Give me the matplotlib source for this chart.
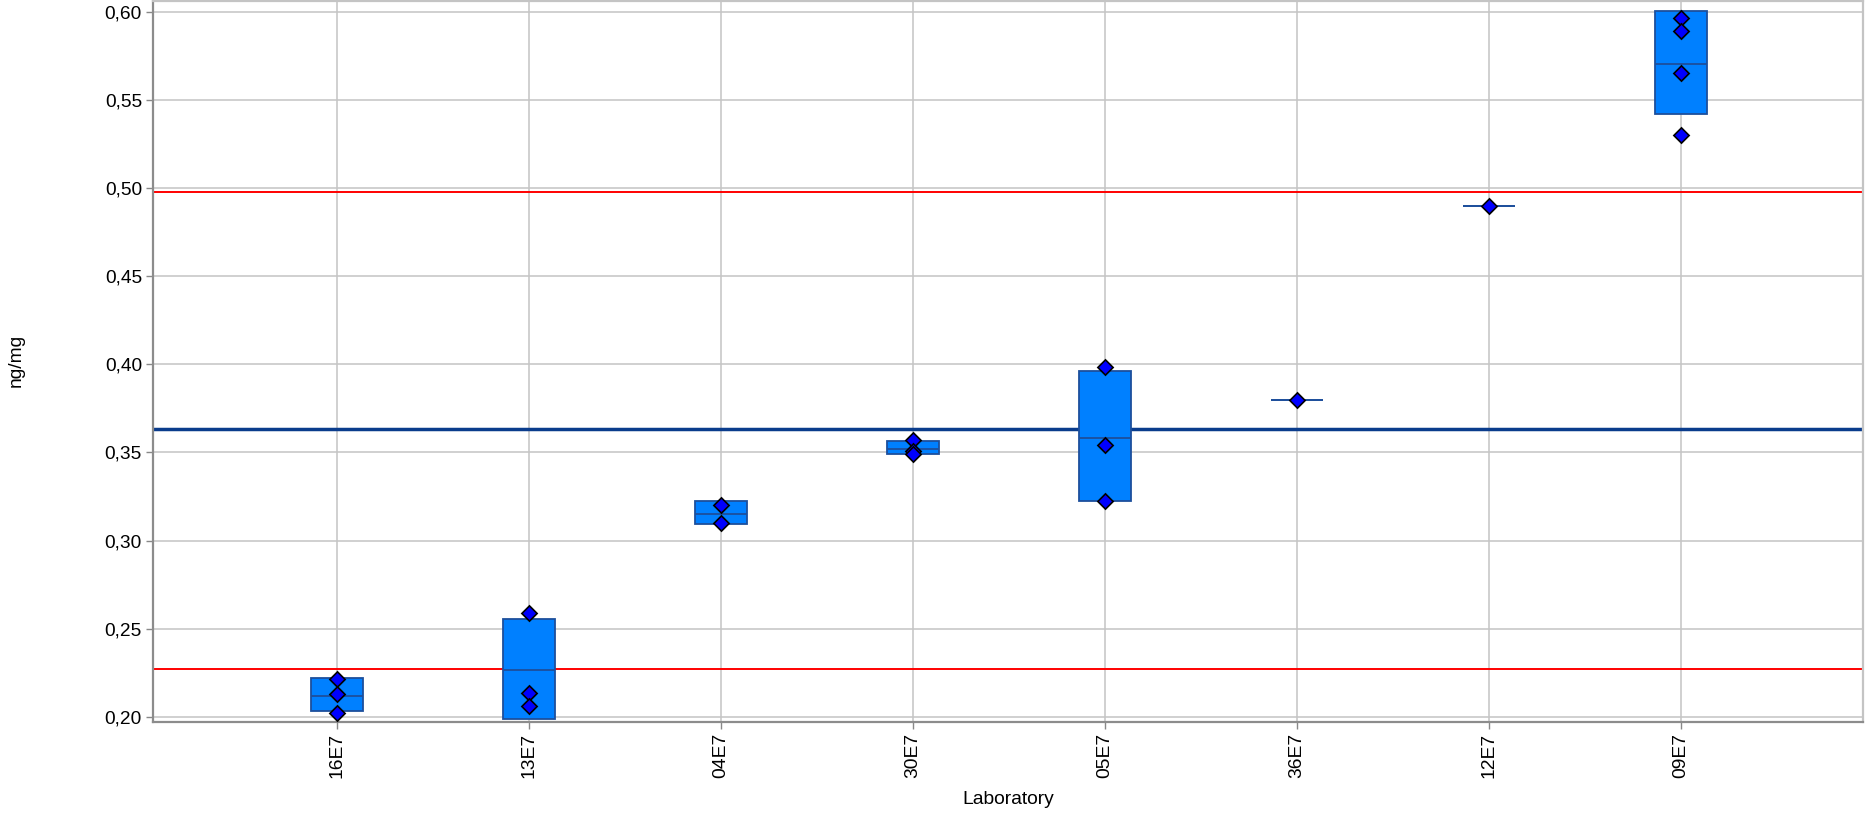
import numpy as np
import matplotlib
matplotlib.use("Agg")
import matplotlib.pyplot as plt
from matplotlib.ticker import FuncFormatter

plt.rcParams['font.family'] = ['Liberation Sans', 'DejaVu Sans']

# laboratories, in plotting order
labs = ['16E7', '13E7', '04E7', '30E7', '05E7', '36E7', '12E7', '09E7']

# box = mean +/- sd, middle line = mean
box_lo = [0.2033, 0.1987, 0.3093, 0.3493, 0.3225, 0.3800, 0.4900, 0.5422]
box_hi = [0.2219, 0.2553, 0.3225, 0.3566, 0.3964, 0.3800, 0.4900, 0.6006]
box_mid = [0.2120, 0.2263, 0.3149, 0.3517, 0.3579, 0.3800, 0.4900, 0.5706]

# single results per laboratory
results = [
    [0.2215, 0.2131, 0.2023],
    [0.2587, 0.2137, 0.2061],
    [0.3200, 0.3100],
    [0.3572, 0.3507, 0.3489],
    [0.3983, 0.3540, 0.3223],
    [0.3800],
    [0.4900],
    [0.5964, 0.5889, 0.5654, 0.5304],
]

assigned_value = 0.3634
limits = [0.2273, 0.4980]
yticks = [0.20, 0.25, 0.30, 0.35, 0.40, 0.45, 0.50, 0.55, 0.60]

fig = plt.figure(figsize=(18.72, 8.13), dpi=100)
ax = fig.add_axes([153 / 1872, 1 - 722 / 813, 1710 / 1872, 721 / 813])

x = np.arange(len(labs))
w = 0.27

ax.set_axisbelow(True)
ax.grid(True, color='#c4c4c4', lw=1.1)

# reference lines
ax.axhline(assigned_value, color='#0a3c8c', lw=2.5, zorder=2)
for lim in limits:
    ax.axhline(lim, color='#ff0000', lw=1.4, zorder=2)

# boxes
ax.bar(x, np.array(box_hi) - np.array(box_lo), bottom=box_lo, width=w,
       color='#0080ff', edgecolor='#1d4f9c', lw=1.3, zorder=3)
ax.hlines(box_mid, x - w / 2, x + w / 2, color='#1d4f9c', lw=1.3, zorder=4)

# diamonds (4-sided polygon, vertex on top)
for i, vals in enumerate(results):
    ax.plot([x[i]] * len(vals), vals, linestyle='none', marker=(4, 0, 0), ms=11,
            mfc='#0000ff', mec='black', mew=1.2, zorder=5)

ax.set_xlim(-0.957, 7.947)
ax.set_ylim(0.197, 0.6062)
ax.set_xticks(x)
ax.set_xticklabels(labs, rotation=90, fontsize=13.9)
ax.set_yticks(yticks)
ax.yaxis.set_major_formatter(FuncFormatter(lambda v, p: f"{v:.2f}".replace('.', ',')))
ax.tick_params(axis='y', labelsize=13.8, length=5, width=1, color='#888888', pad=3)
ax.tick_params(axis='x', length=5, width=1, color='#888888', pad=3)

for s in ['left', 'bottom']:
    ax.spines[s].set_color('#8c8c8c')
    ax.spines[s].set_linewidth(1.6)
for s in ['top', 'right']:
    ax.spines[s].set_color('#c4c4c4')
    ax.spines[s].set_linewidth(1.6)

fig.text(16 / 1872, 1 - 360 / 813, 'ng/mg', rotation=90, ha='center', va='center', fontsize=13.8)
fig.text(1008 / 1872, 1 - 799 / 813, 'Laboratory', ha='center', va='center', fontsize=13.9)

fig.savefig('out.png', dpi=100)
